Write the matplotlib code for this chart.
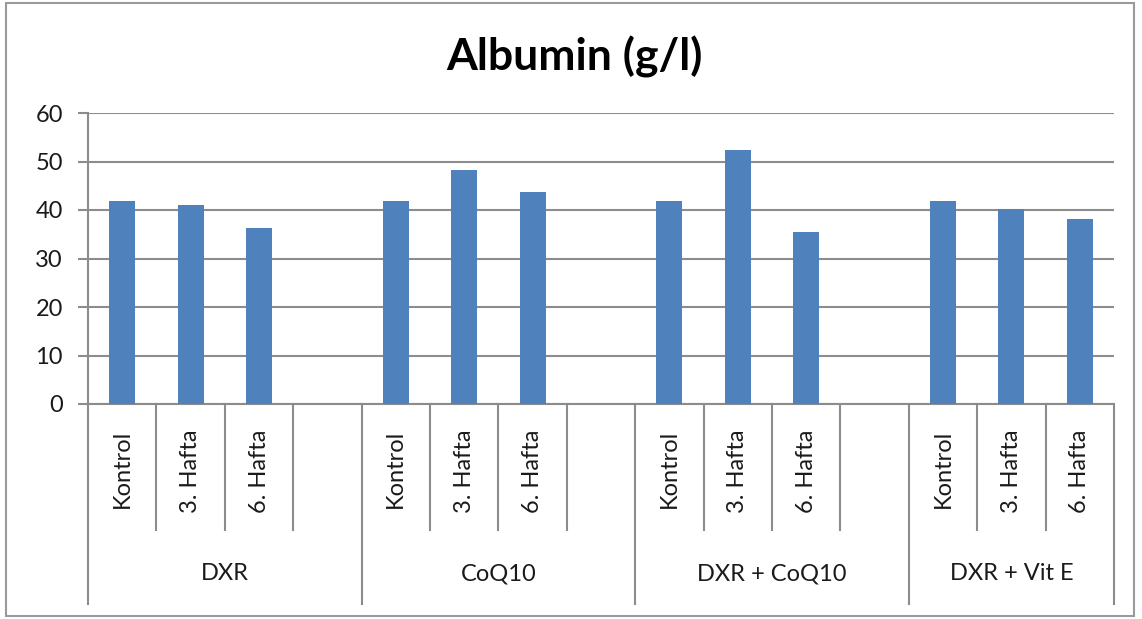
import numpy as np
import matplotlib
matplotlib.use("Agg")
import matplotlib.pyplot as plt
from matplotlib.patches import Rectangle

# Albumin values per group and time point
groups = ["DXR", "CoQ10", "DXR + CoQ10", "DXR + Vit E"]
timepoints = ["Kontrol", "3. Hafta", "6. Hafta"]
dxr = [41.9, 41.1, 36.3]
coq10 = [41.9, 48.2, 43.7]
dxr_coq10 = [41.9, 52.4, 35.5]
dxr_vite = [41.9, 40.3, 38.1]
yticks = [0, 10, 20, 30, 40, 50, 60]

series = [dxr, coq10, dxr_coq10, dxr_vite]
# every group gets 3 bars plus one blank slot, except the last one
slots_per_group = [4, 4, 4, 3]

plt.rcParams['font.family'] = ['Lato', 'DejaVu Sans']

fig = plt.figure(figsize=(11.42, 6.19), dpi=100)
ax = fig.add_axes([88 / 1142, 1 - 404 / 619, (1114 - 88) / 1142, (404 - 113) / 619])

grid_c = "#8c8c8c"
bar_c = "#4F81BD"
txt_c = "#1a1a1a"

xs, vals, labels = [], [], []
start = 0
group_edges = [0]
inner_edges = []
for g, vals_g, n in zip(groups, series, slots_per_group):
    for i, v in enumerate(vals_g):
        xs.append(start + i + 0.5)
        vals.append(v)
        labels.append(timepoints[i])
    inner_edges += [start + k for k in range(1, n)]
    start += n
    group_edges.append(start)

ax.bar(xs, vals, width=0.38, color=bar_c, zorder=3)

ax.set_xlim(0, start)
ax.set_ylim(0, 60)
ax.set_yticks(yticks)
ax.yaxis.grid(True, color=grid_c, linewidth=1.5, zorder=0)
ax.set_xticks([])
for s in ["top", "right"]:
    ax.spines[s].set_visible(False)
for s in ["left", "bottom"]:
    ax.spines[s].set_color(grid_c)
    ax.spines[s].set_linewidth(1.5)
ax.tick_params(axis="y", length=7, width=1.5, color=grid_c, pad=11,
               labelsize=17, labelcolor=txt_c)

# two-level category axis below the plot
tr = ax.get_xaxis_transform()
for x in inner_edges:
    ax.plot([x, x], [0, -0.433], transform=tr, color=grid_c, lw=1.5, clip_on=False)
for x in group_edges:
    ax.plot([x, x], [0, -0.687], transform=tr, color=grid_c, lw=1.5, clip_on=False)
for x, lab in zip(xs, labels):
    ax.text(x, -0.088, lab, transform=tr, rotation=90, ha="center", va="top",
            fontsize=17, color=txt_c)
for g, a, b in zip(groups, group_edges[:-1], group_edges[1:]):
    ax.text((a + b) / 2, -0.584, g, transform=tr, ha="center", va="center",
            fontsize=17, color=txt_c)

fig.text(0.503, 1 - 57 / 619, "Albumin (g/l)", ha="center", va="center",
         fontsize=32, fontweight="bold", color="black")

fig.patches.append(Rectangle((6 / 1142, 3 / 619), 1128 / 1142, 613 / 619,
                             transform=fig.transFigure, fill=False,
                             edgecolor="#9a9a9a", linewidth=1.5))

fig.savefig("out.png", dpi=100)
